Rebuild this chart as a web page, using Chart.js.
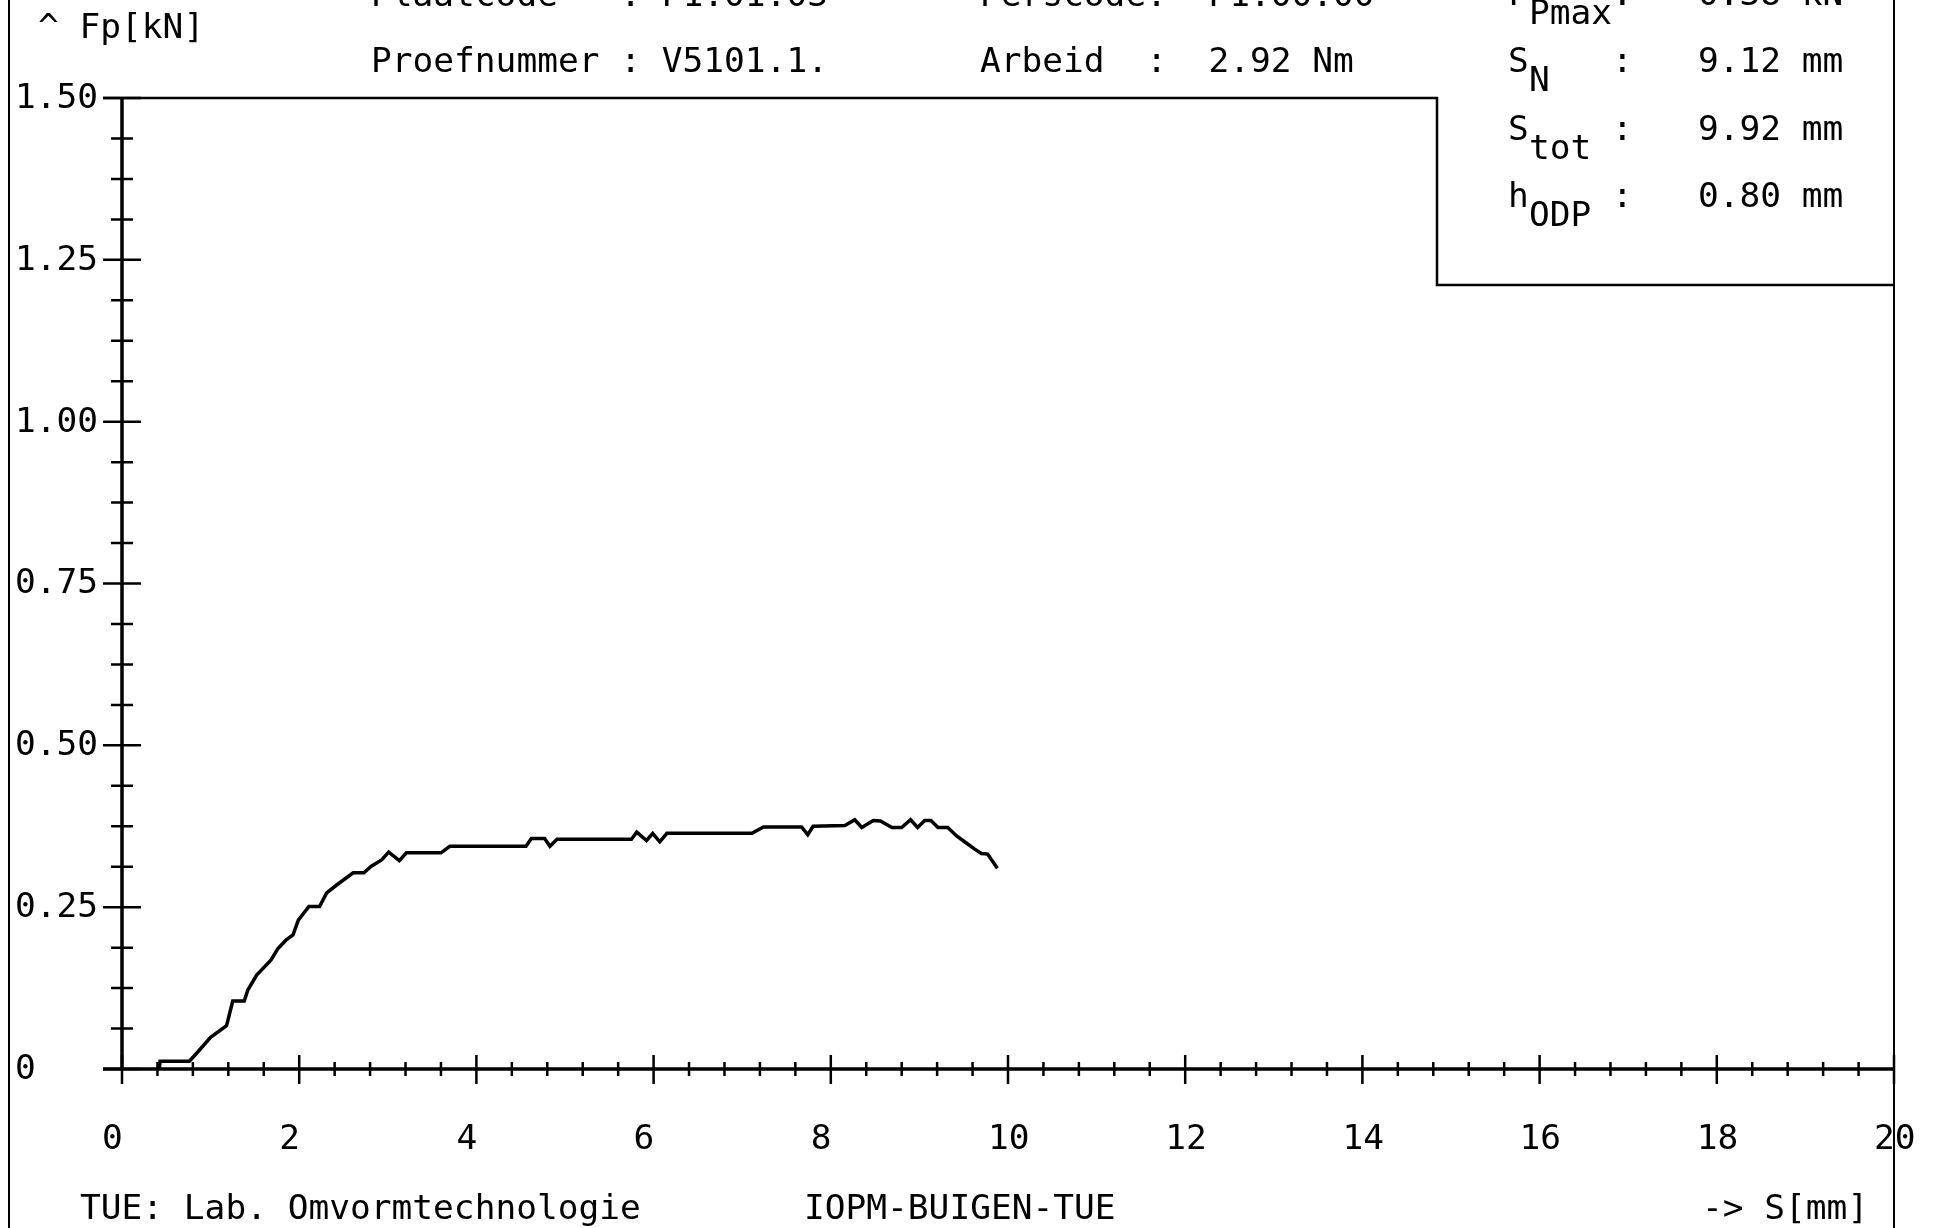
<!DOCTYPE html>
<html>
<head>
<meta charset="utf-8">
<title>Fp - S</title>
<script src="https://cdn.jsdelivr.net/npm/chart.js@4/dist/chart.umd.min.js"></script>
<style>
  html, body { margin: 0; padding: 0; background: #fff; }
  canvas { display: block; }
</style>
</head>
<body>
<canvas id="myChart" width="1937" height="1228"></canvas>
<script>
// curve: S [mm] against Fp [kN]
const sMm = [0.42, 0.43, 0.76, 0.84, 1.00, 1.18, 1.25, 1.38, 1.42, 1.52, 1.68, 1.76, 1.85, 1.93, 1.99,
    2.11, 2.23, 2.31, 2.43, 2.61, 2.73, 2.81, 2.93, 3.01, 3.13, 3.21, 3.60, 3.70, 4.56, 4.62, 4.77,
    4.83, 4.91, 5.75, 5.81, 5.92, 5.99, 6.07, 6.15, 7.11, 7.24, 7.67, 7.74, 7.80, 8.16, 8.27, 8.35,
    8.48, 8.56, 8.69, 8.80, 8.90, 8.98, 9.06, 9.13, 9.21, 9.32, 9.42, 9.51, 9.62, 9.70, 9.77, 9.88];
const fKn = [0.000, 0.012, 0.012, 0.024, 0.049, 0.067, 0.105, 0.105, 0.122, 0.145, 0.168, 0.186, 0.199, 0.207, 0.230,
    0.251, 0.251, 0.272, 0.285, 0.303, 0.303, 0.313, 0.323, 0.335, 0.322, 0.334, 0.334, 0.344, 0.344, 0.356, 0.356,
    0.344, 0.355, 0.355, 0.366, 0.353, 0.364, 0.351, 0.364, 0.364, 0.374, 0.374, 0.362, 0.375, 0.376, 0.385, 0.373,
    0.384, 0.383, 0.373, 0.373, 0.385, 0.373, 0.384, 0.384, 0.373, 0.373, 0.360, 0.351, 0.340, 0.333, 0.332, 0.310];

// axis ticks
const xTickValues = [0, 2, 4, 6, 8, 10, 12, 14, 16, 18, 20];
const xTickLabels = ["0", "2", "4", "6", "8", "10", "12", "14", "16", "18", "20"];
const xMinorStep = 0.4;
const yTickValues = [0, 0.25, 0.5, 0.75, 1.0, 1.25, 1.5];
const yTickLabels = ["0", "0.25", "0.50", "0.75", "1.00", "1.25", "1.50"];
const yMinorStep = 0.0625;

// header texts
const headLeft = ["Plaatcode   : P1.01.03", "Proefnummer : V5101.1."];
const headMid = ["Perscode:  P1.00.00", "Arbeid  :  2.92 Nm"];
const resultNames = ["F", "S", "S", "h"];
const resultSubs = ["Pmax", "N", "tot", "ODP"];
const resultValues = ["0.38 kN", "9.12 mm", "9.92 mm", "0.80 mm"];
const footTexts = ["TUE: Lab. Omvormtechnologie", "IOPM-BUIGEN-TUE", "-> S[mm]"];

const FONT = '34.5px "DejaVu Sans Mono", "Liberation Mono", monospace';

const points = [];
for (let i = 0; i < sMm.length; i++) {
    points.push({x: sMm[i], y: fKn[i]});
}

const plotterFrame = {
    id: 'plotterFrame',
    afterDraw(chart) {
        const ctx = chart.ctx;
        const xs = chart.scales.x;
        const ys = chart.scales.y;
        const x0 = xs.getPixelForValue(0);
        const x20 = xs.getPixelForValue(20);
        const y0 = ys.getPixelForValue(0);
        const yTop = ys.getPixelForValue(1.5);
        const boxX = 1437, boxY = 285;   // corner of the result box

        ctx.save();
        ctx.strokeStyle = '#000';
        ctx.fillStyle = '#000';
        ctx.lineCap = 'butt';

        // outer border lines
        ctx.lineWidth = 2;
        ctx.beginPath();
        ctx.moveTo(9, 0); ctx.lineTo(9, 1228);
        ctx.moveTo(x20, 0); ctx.lineTo(x20, 1228);
        ctx.stroke();

        // top line + result box
        ctx.lineWidth = 2.5;
        ctx.beginPath();
        ctx.moveTo(x0 - 19, yTop); ctx.lineTo(boxX, yTop);
        ctx.lineTo(boxX, boxY); ctx.lineTo(x20, boxY);
        ctx.stroke();

        // axes
        ctx.lineWidth = 3.5;
        ctx.beginPath();
        ctx.moveTo(x0, y0); ctx.lineTo(x0, yTop);
        ctx.moveTo(x0 - 19, y0); ctx.lineTo(x20, y0);
        ctx.stroke();

        // y ticks
        ctx.lineWidth = 2.5;
        ctx.beginPath();
        for (let v = 0; v <= 1.5 + 1e-9; v += yMinorStep) {
            const py = ys.getPixelForValue(v);
            const major = Math.abs(v / 0.25 - Math.round(v / 0.25)) < 1e-6;
            const len = major ? 19 : 11;
            ctx.moveTo(x0 - len, py); ctx.lineTo(x0 + len, py);
        }
        // x ticks
        for (let v = 0; v <= 20 + 1e-9; v += xMinorStep) {
            const px = xs.getPixelForValue(v);
            const major = Math.abs(v / 2 - Math.round(v / 2)) < 1e-6;
            if (major) { ctx.moveTo(px, y0 - 14); ctx.lineTo(px, y0 + 15); }
            else { ctx.moveTo(px, y0 - 7); ctx.lineTo(px, y0 + 7); }
        }
        ctx.stroke();

        ctx.font = FONT;
        ctx.textAlign = 'left';

        // tick labels
        ctx.textBaseline = 'middle';
        for (let i = 0; i < yTickValues.length; i++) {
            ctx.fillText(yTickLabels[i], 15, ys.getPixelForValue(yTickValues[i]) + 1);
        }
        for (let i = 0; i < xTickValues.length; i++) {
            ctx.fillText(xTickLabels[i], xs.getPixelForValue(xTickValues[i]) - 20, 1140);
        }

        // header
        ctx.textBaseline = 'alphabetic';
        ctx.fillText("^ Fp[kN]", 38, 38);
        ctx.fillText(headLeft[0], 371, 6);
        ctx.fillText(headLeft[1], 371, 72);
        ctx.fillText(headMid[0], 980, 6);
        ctx.fillText(headMid[1], 980, 72);

        const rowBase = [5, 72, 140, 207];
        for (let i = 0; i < resultNames.length; i++) {
            ctx.fillText(resultNames[i], 1508, rowBase[i]);
            ctx.fillText(resultSubs[i], 1529, rowBase[i] + 19);
            ctx.fillText(":", 1612, rowBase[i]);
            ctx.fillText(resultValues[i], 1698, rowBase[i]);
        }

        // footer
        ctx.fillText(footTexts[0], 80, 1219);
        ctx.fillText(footTexts[1], 804, 1219);
        ctx.fillText(footTexts[2], 1702, 1219);
        ctx.restore();
    }
};

new Chart(document.getElementById("myChart").getContext("2d"), {
    type: 'line',
    data: {
        datasets: [{
            label: 'Fp',
            data: points,
            borderColor: '#000',
            borderWidth: 3.5,
            pointRadius: 0,
            tension: 0,
            fill: false
        }]
    },
    options: {
        responsive: false,
        animation: false,
        devicePixelRatio: 1,
        layout: {padding: {left: 122, right: 43, top: 98, bottom: 159}},
        plugins: {legend: {display: false}, tooltip: {enabled: false}},
        scales: {
            x: {type: 'linear', min: 0, max: 20, display: false},
            y: {type: 'linear', min: 0, max: 1.5, display: false}
        }
    },
    plugins: [plotterFrame]
});
</script>
</body>
</html>
